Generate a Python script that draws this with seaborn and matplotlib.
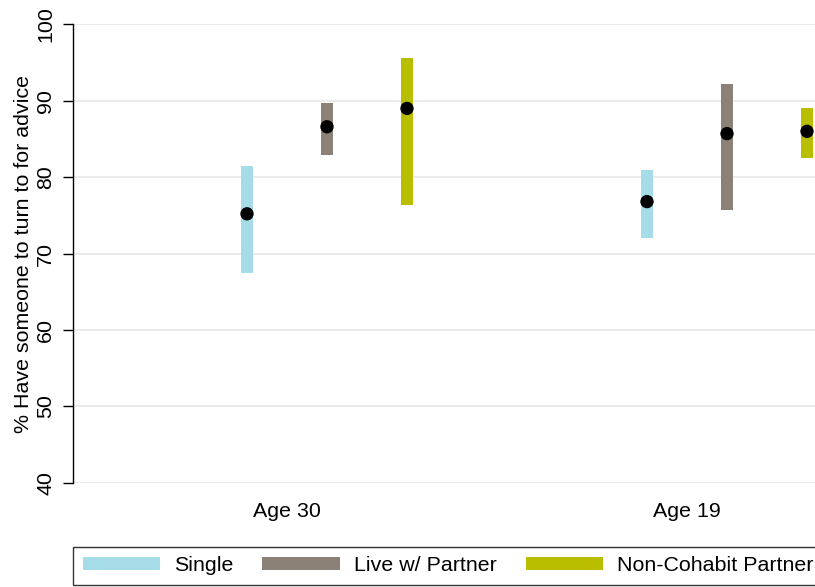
import matplotlib
matplotlib.use("Agg")
import matplotlib.pyplot as plt
from matplotlib.patches import Patch
import seaborn as sns
import pandas as pd

# ---- data ----
groups = ["Age 30", "Age 19"]
statuses = ["Single", "Live w/ Partner", "Non-Cohabit Partner"]
estimate = [[75.2, 86.6, 89.0], [76.8, 85.7, 86.0]]
lower = [[67.5, 82.9, 76.3], [72.1, 75.7, 82.5]]
upper = [[81.5, 89.7, 95.6], [80.9, 92.2, 89.0]]
yticks = [40, 50, 60, 70, 80, 90, 100]
ylabel = "% Have someone to turn to for advice"

colors = ["#a6dce8", "#8b8177", "#b9bf00"]

sns.set_theme(style="white")
plt.rcParams["font.family"] = ["Liberation Sans", "DejaVu Sans"]
plt.rcParams["text.color"] = "black"
plt.rcParams["axes.labelcolor"] = "black"
plt.rcParams["xtick.color"] = "black"
plt.rcParams["ytick.color"] = "black"
FS = 15.4

rows = []
for gi, g in enumerate(groups):
    for si, s in enumerate(statuses):
        rows.append({"group": g, "status": s, "x": gi * 5 + si,
                     "est": estimate[gi][si], "lo": lower[gi][si], "hi": upper[gi][si]})
df = pd.DataFrame(rows)

fig = plt.figure(figsize=(8.15, 5.87), dpi=100)
ax = fig.add_axes([72.7 / 815, 1 - 482.7 / 587, 1 - 72.7 / 815, (482.7 - 24.4) / 587])

for si, s in enumerate(statuses):
    sub = df[df["status"] == s]
    ax.bar(sub["x"], sub["hi"] - sub["lo"], bottom=sub["lo"], width=0.154,
           color=colors[si], edgecolor="none", zorder=2)

sns.scatterplot(data=df, x="x", y="est", color="black", s=92, edgecolor="none",
                ax=ax, zorder=3, legend=False)

ax.set_xlim((72.7 - 247) / 80, (815 - 247) / 80)
ax.set_ylim(40, 100)
ax.set_yticks(yticks)
ax.set_yticklabels([str(t) for t in yticks], rotation=90, va="center", fontsize=FS)
ax.set_xticks([gi * 5 + 0.5 for gi in range(len(groups))])
ax.set_xticklabels(groups, fontsize=FS)
ax.tick_params(axis="x", length=0, pad=14)
ax.tick_params(axis="y", length=7, width=1, direction="out", pad=5.5, left=True)
ax.set_xlabel("")
ax.set_ylabel(ylabel, fontsize=FS)
ax.yaxis.set_label_coords(-0.0535, 0.5)

ax.yaxis.grid(True, color="#ebebeb", linewidth=1.4, zorder=0)
ax.xaxis.grid(False)
ax.set_axisbelow(True)
for sp in ["top", "right", "bottom"]:
    ax.spines[sp].set_visible(False)
ax.spines["left"].set_color("black")
ax.spines["left"].set_linewidth(1.0)

handles = [Patch(facecolor=c, edgecolor="none") for c in colors]
leg = fig.legend(handles, statuses, ncol=3, loc="upper left",
                 bbox_to_anchor=(73 / 815, 1 - 546.7 / 587), bbox_transform=fig.transFigure,
                 fontsize=FS, frameon=True, fancybox=False, edgecolor="black",
                 handlelength=3.64, handleheight=0.56, handletextpad=0.62,
                 columnspacing=1.37, borderpad=0.45, borderaxespad=0)
leg.get_frame().set_linewidth(1.0)

fig.savefig("out.png", dpi=100)
